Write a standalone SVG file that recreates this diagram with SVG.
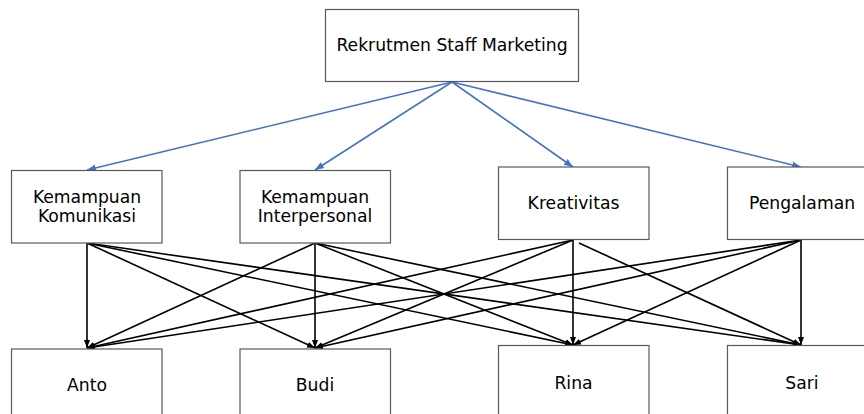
<svg xmlns="http://www.w3.org/2000/svg" width="864" height="414" viewBox="0 0 864 414">
<style>
.box{fill:#ffffff;stroke:#595959;stroke-width:1.2}
.lbl{font-family:"DejaVu Sans",Verdana,sans-serif;font-size:17.2px;fill:#000000;text-anchor:middle}
.blue{stroke:#4472C4;stroke-width:1.6;fill:none}
.blk{stroke:#000000;stroke-width:1.6;fill:none}
</style>
<defs>
<marker id="ab" markerUnits="userSpaceOnUse" markerWidth="10" markerHeight="10" refX="9" refY="5" orient="auto" viewBox="0 0 10 10">
<path d="M0,1.5 L9,5 L0,8.5 Z" fill="#4472C4"/>
</marker>
<marker id="ak" markerUnits="userSpaceOnUse" markerWidth="8" markerHeight="8" refX="8" refY="4" orient="auto" viewBox="0 0 8 8">
<path d="M0,1 L8,4 L0,7 Z" fill="#000000"/>
</marker>
</defs>
<g id="connectors">
<line class="blue" x1="452" y1="82" x2="87" y2="170" marker-end="url(#ab)"/>
<line class="blue" x1="452" y1="82" x2="315" y2="170" marker-end="url(#ab)"/>
<line class="blue" x1="452" y1="82" x2="573" y2="167" marker-end="url(#ab)"/>
<line class="blue" x1="452" y1="82" x2="801" y2="167" marker-end="url(#ab)"/>
<line class="blk" x1="87" y1="243" x2="87" y2="348" marker-end="url(#ak)"/>
<line class="blk" x1="87" y1="243" x2="315" y2="348" marker-end="url(#ak)"/>
<line class="blk" x1="87" y1="243" x2="573" y2="345" marker-end="url(#ak)"/>
<line class="blk" x1="87" y1="243" x2="801" y2="345" marker-end="url(#ak)"/>
<line class="blk" x1="315" y1="243" x2="87" y2="348" marker-end="url(#ak)"/>
<line class="blk" x1="315" y1="243" x2="315" y2="348" marker-end="url(#ak)"/>
<line class="blk" x1="315" y1="243" x2="573" y2="345" marker-end="url(#ak)"/>
<line class="blk" x1="315" y1="243" x2="801" y2="345" marker-end="url(#ak)"/>
<line class="blk" x1="573" y1="240" x2="87" y2="348" marker-end="url(#ak)"/>
<line class="blk" x1="573" y1="240" x2="315" y2="348" marker-end="url(#ak)"/>
<line class="blk" x1="573" y1="240" x2="573" y2="345" marker-end="url(#ak)"/>
<line class="blk" x1="579" y1="243" x2="801" y2="345" marker-end="url(#ak)"/>
<line class="blk" x1="801" y1="240" x2="87" y2="348" marker-end="url(#ak)"/>
<line class="blk" x1="801" y1="240" x2="315" y2="348" marker-end="url(#ak)"/>
<line class="blk" x1="801" y1="240" x2="573" y2="345" marker-end="url(#ak)"/>
<line class="blk" x1="801" y1="240" x2="801" y2="345" marker-end="url(#ak)"/>
</g>
<g id="root">
<rect class="box" x="325.5" y="9.5" width="253" height="72"/>
<text class="lbl" x="452" y="51">Rekrutmen Staff Marketing</text>
</g>
<g id="kemampuan-komunikasi">
<rect class="box" x="11.5" y="170.5" width="150.5" height="72.5"/>
<text class="lbl" x="87" y="203">Kemampuan</text>
<text class="lbl" x="87" y="221.5">Komunikasi</text>
</g>
<g id="kemampuan-interpersonal">
<rect class="box" x="240" y="170.5" width="150.5" height="72.5"/>
<text class="lbl" x="315" y="203">Kemampuan</text>
<text class="lbl" x="315" y="221.5">Interpersonal</text>
</g>
<g id="kreativitas">
<rect class="box" x="498.5" y="167" width="150.5" height="72.5"/>
<text class="lbl" x="573.5" y="209">Kreativitas</text>
</g>
<g id="pengalaman">
<rect class="box" x="727.5" y="167" width="150.5" height="72.5"/>
<text class="lbl" x="802" y="209">Pengalaman</text>
</g>
<g id="anto">
<rect class="box" x="11.5" y="349" width="150.5" height="72.5"/>
<text class="lbl" x="87" y="391">Anto</text>
</g>
<g id="budi">
<rect class="box" x="240" y="349" width="150.5" height="72.5"/>
<text class="lbl" x="315" y="391">Budi</text>
</g>
<g id="rina">
<rect class="box" x="498.5" y="345.5" width="150.5" height="72.5"/>
<text class="lbl" x="573.5" y="388.5">Rina</text>
</g>
<g id="sari">
<rect class="box" x="727.5" y="345.5" width="150.5" height="72.5"/>
<text class="lbl" x="802" y="388.5">Sari</text>
</g>
</svg>
